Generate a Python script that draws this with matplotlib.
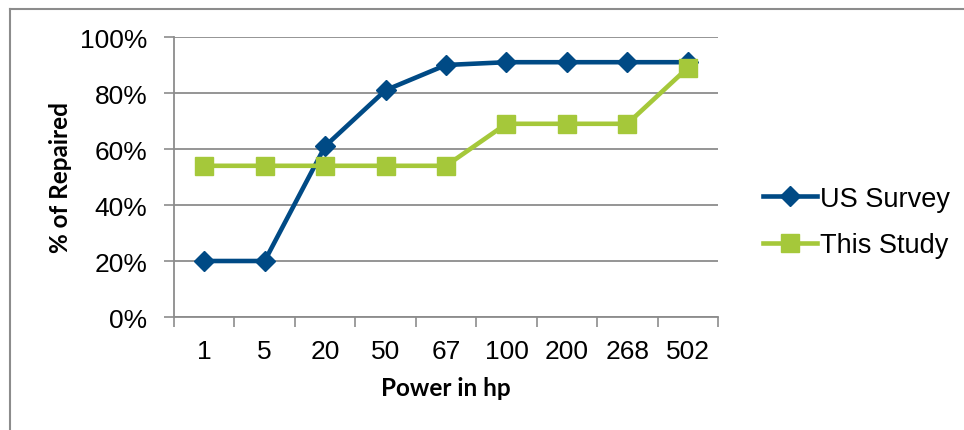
import matplotlib.pyplot as plt
from matplotlib.lines import Line2D
from matplotlib.ticker import FixedLocator, PercentFormatter

plt.rcParams['font.family'] = ['Liberation Sans', 'DejaVu Sans']

# Daten
power_hp = ['1', '5', '20', '50', '67', '100', '200', '268', '502']
us_survey = [20, 20, 61, 81, 90, 91, 91, 91, 91]
this_study = [54, 54, 54, 54, 54, 69, 69, 69, 89]

W, H = 964, 431
fig = plt.figure(figsize=(W / 100, H / 100), dpi=100)

# Rahmen um das ganze Diagramm (links und oben sichtbar)
bx, by = 9.5 / W, 1 - 9.5 / H
fig.add_artist(Line2D([bx, bx], [0, by], transform=fig.transFigure,
                      color='#8c8c8c', linewidth=1.5))
fig.add_artist(Line2D([bx, 1], [by, by], transform=fig.transFigure,
                      color='#8c8c8c', linewidth=1.5))

ax = fig.add_axes([174 / W, 1 - 318 / H, 544 / W, 280 / H])

x = list(range(len(power_hp)))
ax.plot(x, us_survey, color='#004a85', linewidth=3.3, marker='D',
        markersize=10, label='US Survey', zorder=3)
ax.plot(x, this_study, color='#a5c83a', linewidth=3.3, marker='s',
        markersize=13.5, label='This Study', zorder=4)

ax.set_xlim(-0.5, len(power_hp) - 0.5)
ax.set_ylim(0, 100)
ax.set_yticks([0, 20, 40, 60, 80, 100])
ax.yaxis.set_major_formatter(PercentFormatter(decimals=0))
ax.grid(axis='y', color='#8c8c8c', linewidth=1.3)
ax.set_axisbelow(True)

ax.set_xticks(x)
ax.set_xticklabels(power_hp)
ax.xaxis.set_minor_locator(FixedLocator([i - 0.5 for i in range(len(power_hp) + 1)]))
ax.tick_params(axis='x', which='major', length=0, pad=16, labelsize=19)
ax.tick_params(axis='x', which='minor', length=7, width=1.2, color='#8c8c8c',
               direction='out')
ax.tick_params(axis='y', length=7, width=1.2, color='#8c8c8c', pad=12,
               labelsize=19)

for side in ['top', 'right']:
    ax.spines[side].set_visible(False)
for side in ['left', 'bottom']:
    ax.spines[side].set_color('#8c8c8c')
    ax.spines[side].set_linewidth(1.3)

fig.text(60 / W, 1 - 178 / H, '% of Repaired', rotation=90, ha='center',
         va='center', fontsize=17.5, fontweight='bold', family='Lato')
fig.text(446 / W, 1 - 389 / H, 'Power in hp', ha='center', va='center',
         fontsize=17.5, fontweight='bold', family='Lato')

fig.legend(loc='center left', bbox_to_anchor=(749 / W, 1 - 223 / H),
           frameon=False, fontsize=19.5, handlelength=2.0,
           handletextpad=0.12, labelspacing=0.75, borderpad=0)

fig.savefig('out.png', dpi=100)
